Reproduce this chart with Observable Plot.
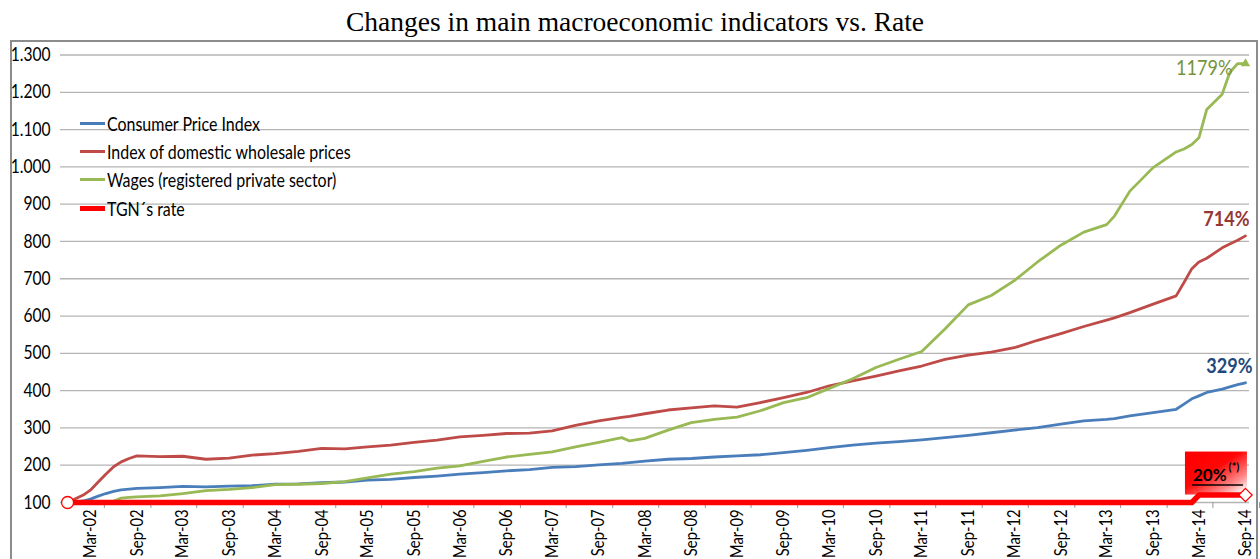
<!DOCTYPE html>
<html>
<head>
<meta charset="utf-8">
<script src="https://cdn.jsdelivr.net/npm/d3@7"></script>
<script src="https://cdn.jsdelivr.net/npm/@observablehq/plot@0.6"></script>
<style>
  html, body { margin: 0; padding: 0; background: #fff; }
  body { width: 1260px; height: 559px; overflow: hidden; position: relative; font-family: Lato, sans-serif; }
  #title { position: absolute; left: 5px; top: 2px; width: 1260px; text-align: center;
           font-family: "Liberation Serif", "Times New Roman", serif; font-size: 27.5px; line-height: 40px; color: #000; }
  #frame { position: absolute; left: 10px; top: 40px; width: 1248px; height: 560px; border: 2px solid #8c8c8c; box-sizing: border-box; }
  #chart { position: absolute; left: 0; top: 40px; }
  #legend { position: absolute; left: 80px; top: 109px; }
  .row { height: 28.4px; display: flex; align-items: center; font-size: 19px; color: #000; white-space: nowrap; }
  .row span { display: inline-block; transform: scaleX(0.84); transform-origin: left center; }
  .sw { width: 25px; margin-right: 2px; flex: none; }
</style>
</head>
<body>
<div id="title">Changes in main macroeconomic indicators vs. Rate</div>
<div id="frame"></div>
<div id="chart"></div>
<div id="legend"></div>
<script>
// ---------------- data ----------------
const months = ["2001-12","2002-01","2002-02","2002-03","2002-04","2002-05","2002-06","2002-07","2002-08","2002-09",
  "2002-12","2003-03","2003-06","2003-09","2003-12",
  "2004-03","2004-06","2004-09","2004-12",
  "2005-03","2005-06","2005-09","2005-12",
  "2006-03","2006-06","2006-09","2006-12",
  "2007-03","2007-06","2007-09","2007-12","2008-01",
  "2008-03","2008-06","2008-09","2008-12",
  "2009-03","2009-06","2009-09","2009-12",
  "2010-03","2010-06","2010-09","2010-12",
  "2011-03","2011-06","2011-09","2011-12",
  "2012-03","2012-06","2012-09","2012-12",
  "2013-03","2013-04","2013-06","2013-09","2013-12",
  "2014-01","2014-02","2014-03","2014-04",
  "2014-06","2014-07","2014-08","2014-09"];

const cpi = [100,101,104,109,117,124,130,134,136,138,
  140,143,142,144,145,
  149,150,153,155,
  160,162,167,171,
  176,180,185,188,
  194,196,201,205,207,
  211,216,218,222,
  225,228,234,240,
  247,254,259,263,
  268,274,280,287,
  294,301,310,319,
  323,325,332,341,350,
  364,378,386,395,
  404,410,416,421];

const wholesale = [100,110,120,133,155,176,196,209,218,225,
  223,224,216,219,227,
  231,237,245,244,
  249,254,261,267,
  276,280,285,286,
  292,307,319,328,331,
  338,348,354,359,
  356,368,381,395,
  413,426,439,453,
  466,484,495,503,
  515,535,553,572,
  589,595,609,632,654,
  690,727,745,755,
  783,793,803,815];

const wages = [100,100,100,100,100,101,103,112,114,115,
  118,124,132,135,140,
  148,149,151,156,
  166,176,183,192,
  198,210,222,229,
  236,249,261,274,265,
  272,294,314,323,
  329,346,368,381,
  406,432,462,484,
  505,565,630,655,
  695,745,790,825,
  845,868,935,998,1040,
  1048,1060,1078,1154,
  1195,1253,1277,1277];

const rate = [100,100,100,100,100,100,100,100,100,100,
  100,100,100,100,100,
  100,100,100,100,
  100,100,100,100,
  100,100,100,100,
  100,100,100,100,100,
  100,100,100,100,
  100,100,100,100,
  100,100,100,100,
  100,100,100,100,
  100,100,100,100,
  100,100,100,100,100,
  100,100,120,120,
  120,120,120,120];

const seriesNames = ["Consumer Price Index", "Index of domestic wholesale prices", "Wages (registered private sector)", "TGN´s rate"];
const endLabels = ["329%", "714%", "1179%"];
const rateLabel = "20%";
const rateNote = "(*)";
const xTickLabels = ["Mar-02","Sep-02","Mar-03","Sep-03","Mar-04","Sep-04","Mar-05","Sep-05","Mar-06","Sep-06",
  "Mar-07","Sep-07","Mar-08","Sep-08","Mar-09","Sep-09","Mar-10","Sep-10","Mar-11","Sep-11",
  "Mar-12","Sep-12","Mar-13","Sep-13","Mar-14","Sep-14"];
const yTicks = [100,200,300,400,500,600,700,800,900,1000,1100,1200,1300];

// ---------------- styles ----------------
const colors = ["#4a7ebb", "#be4b48", "#98b954", "#ff0000"];
const labelColors = ["#1f497d", "#953735", "#77933c"];
const font = "Lato, sans-serif";

// ---------------- build ----------------
const parse = d3.utcParse("%Y-%m");
const dates = months.map(parse);
const tickDates = xTickLabels.map(d3.utcParse("%b-%y"));
const allSeries = [cpi, wholesale, wages, rate];
const rows = allSeries.map((vals, s) => vals.map((v, i) => ({date: dates[i], value: v, s})));
const last = dates.length - 1;
const endPoints = [0, 1, 2].map(s => ({date: dates[last], value: allSeries[s][last], s, label: endLabels[s]}));
const euro = d3.formatLocale({decimal: ",", thousands: ".", grouping: [3], currency: ["", ""]}).format(",d");

const plot = Plot.plot({
  width: 1260, height: 519,
  marginLeft: 60, marginRight: 11, marginTop: 14.5, marginBottom: 57,
  style: {fontFamily: font, background: "transparent", color: "#000"},
  x: {type: "utc", domain: [new Date(Date.UTC(2001, 10, 3)), new Date(Date.UTC(2014, 8, 17))]},
  y: {domain: [100, 1300]},
  marks: [
    Plot.gridY(yTicks, {stroke: "#b4b4b4", strokeOpacity: 1, strokeWidth: 1.3}),
    Plot.axisY(yTicks, {tickSize: 0, tickPadding: 10, tickFormat: euro, fontSize: 19, label: null}),
    Plot.axisX(tickDates, {tickSize: 6, tickFormat: () => "", stroke: "#999", strokeWidth: 1, dx: 14, label: null}),
    Plot.axisX(tickDates, {tickSize: 0, tickPadding: 7, tickRotate: -90, tickFormat: d3.utcFormat("%b-%y"), fontSize: 18, label: null}),
    ...[0, 1, 2].map(s => Plot.line(rows[s], {x: "date", y: "value", stroke: colors[s], strokeWidth: 2.8})),
    Plot.line(rows[3], {x: "date", y: "value", stroke: colors[3], strokeWidth: 5.5}),
    Plot.dot([rows[3][0]], {x: "date", y: "value", r: 6, fill: "white", stroke: colors[3], strokeWidth: 1.3}),
    Plot.dot([rows[3][last]], {x: "date", y: "value", symbol: "diamond2", r: 6, fill: "white", stroke: colors[3], strokeWidth: 1.3}),
    Plot.dot([rows[2][last]], {x: "date", y: "value", symbol: "triangle", r: 3.5, fill: colors[2]}),
    Plot.text([endPoints[2]], {x: "date", y: "value", text: "label", fill: labelColors[2], textAnchor: "end", dx: -13, dy: 5, fontSize: 21, className: "endlab"}),
    Plot.text([endPoints[1]], {x: "date", y: "value", text: "label", fill: labelColors[1], textAnchor: "end", dx: 4, dy: -17, fontSize: 21, fontWeight: "bold", className: "endlab"}),
    Plot.text([endPoints[0]], {x: "date", y: "value", text: "label", fill: labelColors[0], textAnchor: "end", dx: 7, dy: -17, fontSize: 21, fontWeight: "bold", className: "endlab"})
  ]
});
document.getElementById("chart").appendChild(plot);

// condense text horizontally (narrow, tall glyphs as in the reference)
plot.querySelectorAll("text").forEach(el => {
  const L = el.getComputedTextLength();
  if (!L) return;
  const f = el.closest(".endlab") ? 0.86 : 0.82;
  el.setAttribute("textLength", (L * f).toFixed(2));
  el.setAttribute("lengthAdjust", "spacingAndGlyphs");
});

// annotation box for the rate
const svg = d3.select(plot);
const sx = plot.scale("x"), sy = plot.scale("y");
const px = sx.apply(dates[last]), py = sy.apply(rate[last]);
const defs = svg.insert("defs", ":first-child");
const grad = defs.append("linearGradient").attr("id", "rateGrad")
  .attr("x1", 0.25).attr("y1", 0.1).attr("x2", 1).attr("y2", 0.9);
grad.append("stop").attr("offset", "0%").attr("stop-color", "#ff0000");
grad.append("stop").attr("offset", "35%").attr("stop-color", "#ff0808");
grad.append("stop").attr("offset", "75%").attr("stop-color", "#ff8a8a");
grad.append("stop").attr("offset", "100%").attr("stop-color", "#ffffff");
const firstLine = plot.querySelector('g[aria-label="line"]');
const box = document.createElementNS("http://www.w3.org/2000/svg", "rect");
plot.insertBefore(box, firstLine);
d3.select(box).attr("x", px - 60).attr("y", py - 43).attr("width", 62).attr("height", 43).attr("fill", "url(#rateGrad)");
const rt = svg.append("text").attr("x", px - 52).attr("y", py - 14).attr("font-size", 17).attr("font-weight", "bold")
  .attr("text-anchor", "start").attr("font-family", font).attr("fill", "#000");
rt.append("tspan").text(rateLabel);
rt.append("tspan").attr("font-size", 11).attr("dx", 2).attr("dy", -10).text(rateNote);
svg.append("line").attr("x1", px - 53).attr("x2", px - 2).attr("y1", py - 9.5).attr("y2", py - 9.5).attr("stroke", "#000").attr("stroke-width", 1.5);

// legend
const legend = d3.select("#legend");
seriesNames.forEach((name, i) => {
  const r = legend.append("div").attr("class", "row");
  r.append("div").attr("class", "sw").style("height", (i === 3 ? 5 : 3) + "px").style("background", colors[i]);
  r.append("span").text(name);
});
</script>
</body>
</html>
